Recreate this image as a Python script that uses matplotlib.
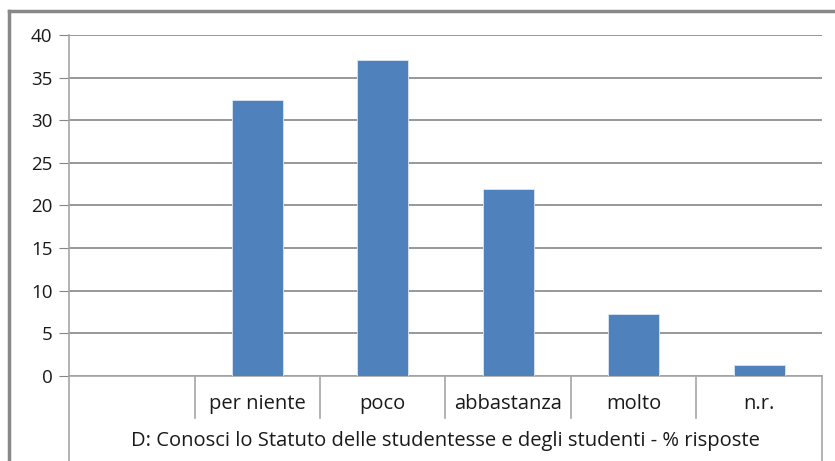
import matplotlib
matplotlib.use("Agg")
import matplotlib.pyplot as plt
from matplotlib.lines import Line2D

# dati
categorie = ["", "per niente", "poco", "abbastanza", "molto", "n.r."]
valori = [0, 32.4, 37.1, 21.9, 7.3, 1.3]
titolo_asse = "D: Conosci lo Statuto delle studentesse e degli studenti - % risposte"

plt.rcParams['font.family'] = ['Open Sans', 'DejaVu Sans']

fig = plt.figure(figsize=(8.35, 4.61), dpi=100)
ax = fig.add_axes([69 / 835, 1 - 376 / 461, (822 - 69) / 835, (376 - 35) / 461])

x = list(range(len(categorie)))
ax.bar(x[1:], valori[1:], width=0.41, color="#4f81bd", edgecolor="#dce6f2", linewidth=0.6, zorder=3)

ax.set_xlim(-0.5, len(categorie) - 0.5)
ax.set_ylim(0, 40)
ax.set_yticks(range(0, 41, 5))
ax.yaxis.grid(True, color="#868686", linewidth=1.2, zorder=0)
ax.tick_params(axis="y", length=7, color="#868686", labelsize=13.5, pad=5, labelcolor="#1a1a1a")
ax.tick_params(axis="x", length=0, labelbottom=False)
for s in ["top", "right"]:
    ax.spines[s].set_visible(False)
for s in ["left", "bottom"]:
    ax.spines[s].set_color("#a6a6a6")
    ax.spines[s].set_linewidth(1.2)

# asse categorie a due livelli
tr = ax.get_xaxis_transform()
for i in range(1, len(categorie)):
    ax.plot([i - 0.5, i - 0.5], [0, -0.123], transform=tr, color="#a6a6a6", lw=1.2, clip_on=False)
    ax.text(i, -0.082, categorie[i], transform=tr, ha="center", va="center", fontsize=14.5, color="#1a1a1a")
ax.plot([-0.5, -0.5], [0, -0.25], transform=tr, color="#a6a6a6", lw=1.2, clip_on=False)
ax.plot([5.5, 5.5], [0, -0.25], transform=tr, color="#a6a6a6", lw=1.2, clip_on=False)
ax.text(0.5, -0.19, titolo_asse, transform=ax.transAxes, ha="center", va="center", fontsize=14.5, color="#1a1a1a")

# cornice esterna
fig.add_artist(Line2D([9 / 835, 1], [1 - 11 / 461, 1 - 11 / 461], color="#888888", lw=2.5))
fig.add_artist(Line2D([9 / 835, 9 / 835], [1 - 11 / 461, 0], color="#888888", lw=2.5))

fig.savefig("out.png", dpi=100)
